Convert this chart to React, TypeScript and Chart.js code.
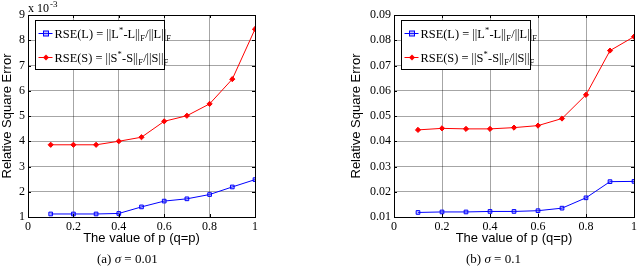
import React, { useEffect, useRef } from "react";
import { Chart, registerables } from "chart.js";

Chart.register(...registerables);

const pValues = [0.1, 0.2, 0.3, 0.4, 0.5, 0.6, 0.7, 0.8, 0.9, 1.0];
// (a) sigma = 0.01, values in units of 1e-3
const rseLa = [1.12, 1.12, 1.12, 1.14, 1.4, 1.63, 1.72, 1.89, 2.19, 2.48];
const rseSa = [3.86, 3.86, 3.86, 4.0, 4.16, 4.79, 5.01, 5.48, 6.46, 8.44];
// (b) sigma = 0.1
const rseLb = [0.0118, 0.012, 0.012, 0.0122, 0.0122, 0.0125, 0.0135, 0.0176, 0.0240, 0.0241];
const rseSb = [0.0445, 0.0451, 0.0449, 0.0449, 0.0454, 0.0462, 0.0490, 0.0584, 0.0759, 0.0814];

const xTitle = "The value of p (q=p)";
const yTitle = "Relative Square Error";
const serif = "'Liberation Serif', 'DejaVu Serif', serif";
const sans = "'Liberation Sans', Arial, sans-serif";

type Seg = [string, "n" | "sup" | "sub"];
const legendL: Seg[] = [["RSE(L) = ||L", "n"], ["*", "sup"], ["-L||", "n"], ["F", "sub"], ["/||L||", "n"], ["F", "sub"]];
const legendS: Seg[] = [["RSE(S) = ||S", "n"], ["*", "sup"], ["-S||", "n"], ["F", "sub"], ["/||S||", "n"], ["F", "sub"]];

function drawSegs(ctx: CanvasRenderingContext2D, segs: Seg[], x: number, y: number) {
  let cx = x;
  for (const [t, k] of segs) {
    if (k === "n") {
      ctx.font = `12.4px ${serif}`;
      ctx.fillText(t, cx, y + 4);
    } else if (k === "sup") {
      ctx.font = `8.5px ${serif}`;
      ctx.fillText(t, cx, y - 1);
    } else {
      ctx.font = `8.5px ${serif}`;
      ctx.fillText(t, cx, y + 7);
    }
    cx += ctx.measureText(t).width + 0.2;
  }
}

function makePlugin(exponent: boolean) {
  return {
    id: "decor",
    afterDraw(chart: any) {
      const ctx = chart.ctx as CanvasRenderingContext2D;
      const a = chart.chartArea;
      ctx.save();
      // inward ticks
      ctx.strokeStyle = "#000";
      ctx.lineWidth = 1;
      const xs = chart.scales.x, ys = chart.scales.y;
      ctx.beginPath();
      for (const t of xs.ticks) {
        const px = Math.round(xs.getPixelForValue(t.value)) + 0.5;
        ctx.moveTo(px, a.bottom); ctx.lineTo(px, a.bottom - 3);
        ctx.moveTo(px, a.top); ctx.lineTo(px, a.top + 3);
      }
      for (const t of ys.ticks) {
        const py = Math.round(ys.getPixelForValue(t.value)) + 0.5;
        ctx.moveTo(a.left, py); ctx.lineTo(a.left + 3, py);
        ctx.moveTo(a.right, py); ctx.lineTo(a.right - 3, py);
      }
      ctx.stroke();
      // frame
      ctx.strokeRect(Math.round(a.left) + 0.5, Math.round(a.top) + 0.5, Math.round(a.right - a.left), Math.round(a.bottom - a.top));
      // legend
      const bx = Math.round(a.left + 7) + 0.5, by = Math.round(a.top + 5) + 0.5, bw = 129, bh = 49;
      ctx.fillStyle = "#fff";
      ctx.fillRect(bx, by, bw, bh);
      ctx.strokeStyle = "#000";
      ctx.strokeRect(bx, by, bw, bh);
      const rows = [
        { y: by + 13, color: "#0000ff", segs: legendL, ds: 0 },
        { y: by + 37, color: "#ff0000", segs: legendS, ds: 1 },
      ];
      for (const r of rows) {
        ctx.strokeStyle = r.color;
        ctx.beginPath();
        ctx.moveTo(bx + 3, r.y); ctx.lineTo(bx + 17, r.y);
        ctx.stroke();
        const meta = chart.getDatasetMeta(r.ds);
        const el = meta.data[0];
        const opts = el.options;
        // marker
        ctx.fillStyle = opts.backgroundColor;
        ctx.strokeStyle = opts.borderColor;
        if (r.ds === 0) {
          ctx.fillRect(bx + 8, r.y - 2.5, 5, 5);
          ctx.strokeRect(bx + 8, r.y - 2.5, 5, 5);
        } else {
          ctx.beginPath();
          ctx.moveTo(bx + 10.5, r.y - 3); ctx.lineTo(bx + 13.5, r.y);
          ctx.lineTo(bx + 10.5, r.y + 3); ctx.lineTo(bx + 7.5, r.y);
          ctx.closePath(); ctx.fill();
        }
        ctx.fillStyle = "#000";
        ctx.textBaseline = "alphabetic";
        ctx.textAlign = "left";
        drawSegs(ctx, r.segs, bx + 19, r.y);
      }
      if (exponent) {
        ctx.fillStyle = "#000";
        ctx.textAlign = "left";
        ctx.textBaseline = "alphabetic";
        ctx.font = `12px ${serif}`;
        const t = "x 10";
        ctx.fillText(t, a.left, a.top - 3);
        const w = ctx.measureText(t).width;
        ctx.font = `9px ${serif}`;
        ctx.fillText("-3", a.left + w + 1, a.top - 8);
      }
      ctx.restore();
    },
  };
}

interface PanelProps {
  left: number;
  L: number[];
  S: number[];
  yMin: number;
  yMax: number;
  yStep: number;
  yFmt: (v: number) => string;
  yWidth: number;
  padRight: number;
  yTitlePad: number;
  exponent: boolean;
}

function Panel(p: PanelProps) {
  const ref = useRef<HTMLCanvasElement>(null);
  useEffect(() => {
    const grid = { color: "rgba(0,0,0,0.35)", lineWidth: 1, drawTicks: false };
    const chart = new Chart(ref.current!, {
      type: "line",
      data: {
        datasets: [
          {
            data: pValues.map((x, i) => ({ x, y: p.L[i] })),
            borderColor: "#0000ff",
            backgroundColor: "rgba(80,80,255,0.35)",
            borderWidth: 1,
            pointStyle: "rect",
            pointRadius: 2.6,
            pointBorderWidth: 1,
            tension: 0,
          },
          {
            data: pValues.map((x, i) => ({ x, y: p.S[i] })),
            borderColor: "#ff0000",
            backgroundColor: "#ff0000",
            borderWidth: 1,
            pointStyle: "rectRot",
            pointRadius: 2.6,
            pointBorderWidth: 1,
            tension: 0,
          },
        ],
      },
      options: {
        animation: false,
        responsive: false,
        maintainAspectRatio: false,
        layout: { padding: { left: 0, right: p.padRight, top: 15, bottom: 19 } },
        plugins: { legend: { display: false }, tooltip: { enabled: false } },
        scales: {
          x: {
            type: "linear",
            min: 0,
            max: 1,
            ticks: {
              stepSize: 0.2,
              autoSkip: false,
              maxRotation: 0,
              padding: 3,
              color: "#000",
              font: { family: serif, size: 12 },
              callback: (v: any) => (v === 0 ? "0" : Math.abs(v - 1) < 1e-9 ? "1" : Number(v).toFixed(1)),
            },
            grid,
            border: { color: "#000" },
            title: { display: true, text: xTitle, color: "#000", font: { family: sans, size: 13 }, padding: { top: 0, bottom: 1 } },
            afterFit: (s: any) => { s.height = 30; },
          },
          y: {
            type: "linear",
            min: p.yMin,
            max: p.yMax,
            ticks: {
              stepSize: p.yStep,
              autoSkip: false,
              padding: 3,
              color: "#000",
              font: { family: serif, size: 12 },
              callback: (v: any) => p.yFmt(Number(v)),
            },
            grid,
            border: { color: "#000" },
            title: { display: true, text: yTitle, color: "#000", font: { family: sans, size: 13 }, padding: { top: p.yTitlePad, bottom: 0 } },
            afterFit: (s: any) => { s.width = p.yWidth; },
          },
        },
      },
      plugins: [makePlugin(p.exponent) as any],
    });
    return () => chart.destroy();
  }, []);
  return (
    <canvas
      ref={ref}
      width={320}
      height={266}
      style={{ position: "absolute", left: p.left, top: 0, width: 320, height: 266, display: "block" }}
    />
  );
}

export default function App() {
  const cap: React.CSSProperties = { position: "absolute", top: 251, fontFamily: serif, fontSize: 13, color: "#000", whiteSpace: "nowrap" };
  return (
    <div style={{ position: "fixed", left: 0, top: 0, width: 640, height: 266, background: "#fff", overflow: "hidden" }}>
      <Panel left={0} L={rseLa} S={rseSa} yMin={1} yMax={9} yStep={1} yFmt={(v) => String(Math.round(v))} yWidth={28} padRight={65} yTitlePad={0} exponent={true} />
      <Panel left={320} L={rseLb} S={rseSb} yMin={0.01} yMax={0.09} yStep={0.01} yFmt={(v) => v.toFixed(2)} yWidth={74} padRight={3} yTitlePad={29} exponent={false} />
      <div style={{ ...cap, left: 97 }}>(a) <i>σ</i> = 0.01</div>
      <div style={{ ...cap, left: 466 }}>(b) <i>σ</i> = 0.1</div>
    </div>
  );
}
